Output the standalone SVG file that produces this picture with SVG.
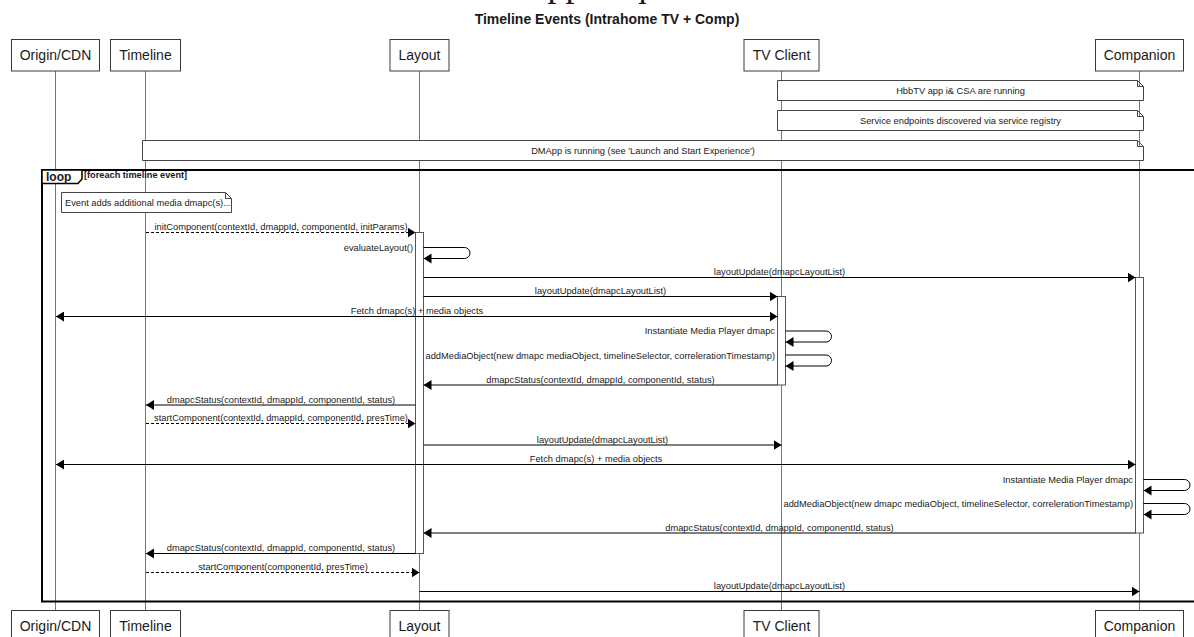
<svg xmlns="http://www.w3.org/2000/svg" width="1194" height="637" viewBox="0 0 1194 637">
<style>
text{font-family:"Liberation Sans",Arial,sans-serif;fill:#1a1a1a}
.pt{font-size:14px;text-anchor:middle}
.t{font-size:9.3px}
.c{text-anchor:middle}
.r{text-anchor:end}
.box{fill:#fff;stroke:#3a3a3a;stroke-width:1}
.life{stroke:#777;stroke-width:1}
.act{fill:#fff;stroke:#555;stroke-width:1}
.note{fill:#fff;stroke:#444;stroke-width:1}
.msg{fill:none;stroke:#000;stroke-width:1;marker-end:url(#ah)}
.dash{stroke-dasharray:3,2}
.dbl{marker-start:url(#ah)}
</style>
<defs>
<marker id="ah" markerUnits="userSpaceOnUse" markerWidth="8" markerHeight="10" refX="8" refY="5" orient="auto-start-reverse">
<path d="M0,0 L8,5 L0,10 Z" fill="#000"/>
</marker>
</defs>
<rect width="1194" height="637" fill="#fff"/>
<text x="597" y="-4" style="font-family:'Liberation Serif','Times New Roman',serif;font-size:36px;text-anchor:middle">DMApp Sequence</text>
<text x="607" y="24" style="font-size:14px;font-weight:bold;text-anchor:middle">Timeline Events (Intrahome TV + Comp)</text>

<g id="lifelines">
<line class="life" x1="55.5" y1="71" x2="55.5" y2="610.5"/>
<line class="life" x1="145.5" y1="71" x2="145.5" y2="610.5"/>
<line class="life" x1="419.5" y1="71" x2="419.5" y2="610.5"/>
<line class="life" x1="781.5" y1="71" x2="781.5" y2="610.5"/>
<line class="life" x1="1139.5" y1="71" x2="1139.5" y2="610.5"/>
</g>

<g id="origin">
<rect class="box" x="11.5" y="39.5" width="88" height="31.5"/><text class="pt" x="55.5" y="60">Origin/CDN</text>
<rect class="box" x="11.5" y="610.5" width="88" height="31.5"/><text class="pt" x="55.5" y="631">Origin/CDN</text>
</g>
<g id="timeline">
<rect class="box" x="110.5" y="39.5" width="70" height="31.5"/><text class="pt" x="145.5" y="60">Timeline</text>
<rect class="box" x="110.5" y="610.5" width="70" height="31.5"/><text class="pt" x="145.5" y="631">Timeline</text>
</g>
<g id="layout">
<rect class="box" x="390" y="39.5" width="59" height="31.5"/><text class="pt" x="419.5" y="60">Layout</text>
<rect class="box" x="390" y="610.5" width="59" height="31.5"/><text class="pt" x="419.5" y="631">Layout</text>
</g>
<g id="tvclient">
<rect class="box" x="744" y="39.5" width="75" height="31.5"/><text class="pt" x="781.5" y="60">TV Client</text>
<rect class="box" x="744" y="610.5" width="75" height="31.5"/><text class="pt" x="781.5" y="631">TV Client</text>
</g>
<g id="companion">
<rect class="box" x="1095.5" y="39.5" width="88" height="31.5"/><text class="pt" x="1139.5" y="60">Companion</text>
<rect class="box" x="1095.5" y="610.5" width="88" height="31.5"/><text class="pt" x="1139.5" y="631">Companion</text>
</g>

<g id="note-hbbtv">
<path class="note" d="M777.5,80.5 H1137.5 L1143.5,86.5 V100.5 H777.5 Z M1137.5,80.5 V86.5 H1143.5"/>
<text class="t c" x="960.5" y="93.5">HbbTV app i&amp; CSA are running</text>
</g>
<g id="note-service">
<path class="note" d="M777.5,110.5 H1137.5 L1143.5,116.5 V130.5 H777.5 Z M1137.5,110.5 V116.5 H1143.5"/>
<text class="t c" x="960.5" y="123.5">Service endpoints discovered via service registry</text>
</g>
<g id="note-dmapp">
<path class="note" d="M142.5,140.5 H1137.5 L1143.5,146.5 V160.5 H142.5 Z M1137.5,140.5 V146.5 H1143.5"/>
<text class="t c" x="643" y="153.5">DMApp is running (see 'Launch and Start Experience')</text>
</g>

<g id="loop">
<rect x="42" y="170" width="1200" height="431.5" fill="none" stroke="#000" stroke-width="2"/>
<path d="M42,170 H82 V179 L78,183.5 H42 Z" fill="#fff" stroke="#000" stroke-width="1.5"/>
<text x="46" y="180.5" style="font-size:12px;font-weight:bold">loop</text>
<text x="84" y="178" style="font-size:9.2px;font-weight:bold">[foreach timeline event]</text>
</g>

<g id="note-event">
<path class="note" d="M61.5,192.5 H225.5 L231.5,198.5 V212.5 H61.5 Z M225.5,192.5 V198.5 H231.5"/>
<text class="t" x="65" y="206">Event adds additional media dmapc(s)...</text>
</g>

<g id="activations">
<rect class="act" x="415.5" y="232.5" width="8" height="321"/>
<rect class="act" x="777.5" y="296.5" width="8" height="88.5"/>
<rect class="act" x="1135.5" y="277.5" width="8" height="255.5"/>
</g>

<g id="connectors">
<line class="msg dash" x1="146" y1="232.5" x2="415.5" y2="232.5"/>
<text class="t c" x="281" y="230">initComponent(contextId, dmappId, componentId, initParams)</text>

<path class="msg" d="M423.5,247.5 H464.5 A5.5,5.5 0 0 1 464.5,258.5 H423.5"/>
<text class="t r" x="413" y="250.5">evaluateLayout()</text>

<line class="msg" x1="423.5" y1="277.5" x2="1135.5" y2="277.5"/>
<text class="t c" x="779.5" y="275">layoutUpdate(dmapcLayoutList)</text>

<line class="msg" x1="423.5" y1="296.5" x2="777.5" y2="296.5"/>
<text class="t c" x="600.5" y="294">layoutUpdate(dmapcLayoutList)</text>

<line class="msg dbl" x1="56" y1="316.5" x2="777.5" y2="316.5"/>
<text class="t c" x="417" y="314">Fetch dmapc(s) + media objects</text>

<path class="msg" d="M785.5,331 H826 A5.5,5.5 0 0 1 826,342 H785.5"/>
<text class="t r" x="775" y="334">Instantiate Media Player dmapc</text>

<path class="msg" d="M785.5,355 H826 A5.5,5.5 0 0 1 826,366 H785.5"/>
<text class="t r" x="775" y="358.5">addMediaObject(new dmapc mediaObject, timelineSelector, correlerationTimestamp)</text>

<line class="msg" x1="777.5" y1="385" x2="423.5" y2="385"/>
<text class="t c" x="600.5" y="382.5">dmapcStatus(contextId, dmappId, componentId, status)</text>

<line class="msg" x1="415.5" y1="405" x2="146" y2="405"/>
<text class="t c" x="281" y="402.5">dmapcStatus(contextId, dmappId, componentId, status)</text>

<line class="msg dash" x1="146" y1="423.5" x2="415.5" y2="423.5"/>
<text class="t c" x="281" y="421">startComponent(contextId, dmappId, componentId, presTime)</text>

<line class="msg" x1="423.5" y1="445" x2="781.5" y2="445"/>
<text class="t c" x="602.5" y="442.5">layoutUpdate(dmapcLayoutList)</text>

<line class="msg dbl" x1="56" y1="464.5" x2="1135.5" y2="464.5"/>
<text class="t c" x="596" y="462">Fetch dmapc(s) + media objects</text>

<path class="msg" d="M1143.5,479.5 H1184.5 A5.5,5.5 0 0 1 1184.5,490.5 H1143.5"/>
<text class="t r" x="1133" y="483">Instantiate Media Player dmapc</text>

<path class="msg" d="M1143.5,503.5 H1184.5 A5.5,5.5 0 0 1 1184.5,514.5 H1143.5"/>
<text class="t r" x="1133" y="507">addMediaObject(new dmapc mediaObject, timelineSelector, correlerationTimestamp)</text>

<line class="msg" x1="1135.5" y1="533" x2="423.5" y2="533"/>
<text class="t c" x="779.5" y="530.5">dmapcStatus(contextId, dmappId, componentId, status)</text>

<line class="msg" x1="415.5" y1="553.5" x2="146" y2="553.5"/>
<text class="t c" x="281" y="551">dmapcStatus(contextId, dmappId, componentId, status)</text>

<line class="msg dash" x1="146" y1="572.5" x2="419.5" y2="572.5"/>
<text class="t c" x="283" y="570">startComponent(componentId, presTime)</text>

<line class="msg" x1="419.5" y1="591.5" x2="1139.5" y2="591.5"/>
<text class="t c" x="779.5" y="589">layoutUpdate(dmapcLayoutList)</text>
</g>
</svg>
